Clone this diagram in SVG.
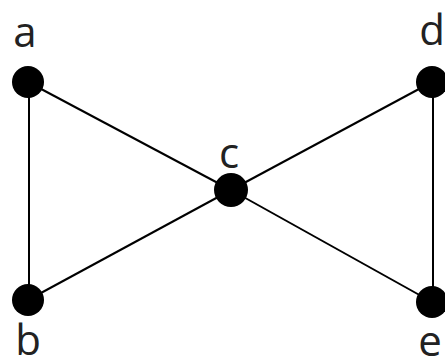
<svg xmlns="http://www.w3.org/2000/svg" width="445" height="358" viewBox="0 0 445 358">
<style>
.n{fill:#000}
.l{font-family:"Open Sans","Liberation Sans",sans-serif;font-size:42px;fill:#222;text-anchor:middle}
.e{stroke:#000;stroke-width:2;fill:none}
</style>
<rect width="445" height="358" fill="#fff"/>
<g id="edges">
<line class="e" x1="29" y1="82" x2="29" y2="300"/>
<line class="e" x1="433" y1="82" x2="433" y2="302"/>
<line class="e" x1="28" y1="82" x2="231" y2="190"/>
<line class="e" x1="28" y1="300" x2="231" y2="190"/>
<line class="e" x1="432" y1="82" x2="231" y2="190"/>
<line class="e" x1="432" y1="302" x2="231" y2="190"/>
</g>
<g id="a"><circle class="n" cx="28" cy="82" r="16"/><text class="l" x="25" y="47">a</text></g>
<g id="b"><circle class="n" cx="28" cy="300" r="16"/><text class="l" x="28" y="355">b</text></g>
<g id="c"><circle class="n" cx="231" cy="190" r="17"/><text class="l" x="229" y="168">c</text></g>
<g id="d"><circle class="n" cx="432" cy="82" r="16"/><text class="l" x="432" y="45">d</text></g>
<g id="e"><circle class="n" cx="432" cy="302" r="16"/><text class="l" x="430" y="356">e</text></g>
</svg>
